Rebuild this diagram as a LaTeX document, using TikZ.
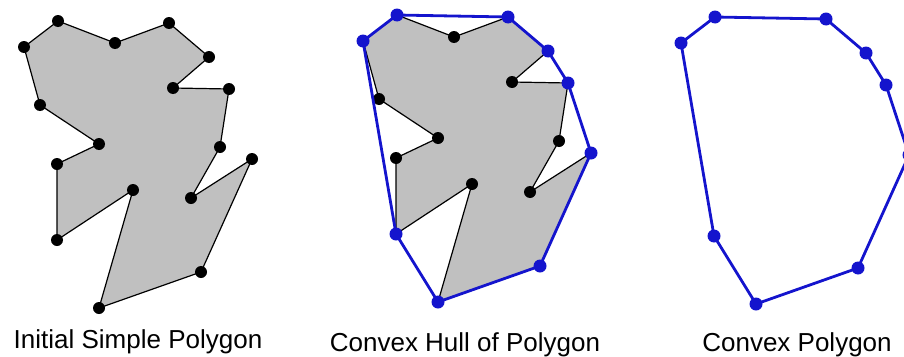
\documentclass[tikz,border=0pt]{standalone}
\usepackage{fontspec}
\setmainfont{Liberation Sans}
\usetikzlibrary{positioning}
\definecolor{hullblue}{RGB}{20,20,205}
\definecolor{polygray}{RGB}{192,192,192}

\begin{document}
\begin{tikzpicture}[
    x=1pt, y=-1pt,
    poly/.style={draw=black, line width=1.2pt, fill=polygray, line join=round},
    hull/.style={draw=hullblue, line width=2.8pt, line join=round},
    vtx/.style={fill=black},
    hvtx/.style={fill=hullblue},
    caption/.style={font=\fontsize{26}{30}\selectfont, anchor=base}
]
\useasboundingbox (0,0) rectangle (904,356);

%% ── Vertices (same polygon in all three panels) ──────────────────
\foreach \pfx/\sx/\sy in {a/0/0, b/339/-6, c/657/-4} {
  \begin{scope}[shift={(\sx,\sy)}]
    \foreach \i/\px/\py in {1/58/21, 2/115/43, 3/169/23, 4/209/57, 5/173/88,
                            6/229/89, 7/220/147, 8/191/198, 9/252/159,
                            10/201/272, 11/99/308, 12/133/190, 13/57/240,
                            14/57/164, 15/99/144, 16/40/105, 17/24/47}
      \coordinate (\pfx\i) at (\px,\py);
  \end{scope}
}

%% ── Panel 1: initial simple polygon ──────────────────────────────
\draw[poly] (a1) \foreach \i in {2,...,17}{ -- (a\i)} -- cycle;
\foreach \i in {1,...,17}
  \fill[vtx] (a\i) circle (6);

%% ── Panel 2: polygon with its convex hull ────────────────────────
\draw[poly] (b1) \foreach \i in {2,...,17}{ -- (b\i)} -- cycle;
\foreach \i in {2,5,7,8,12,14,15,16}
  \fill[vtx] (b\i) circle (6);
\draw[hull] (b1) -- (b3) -- (b4) -- (b6) -- (b9) -- (b10) -- (b11)
            -- (b13) -- (b17) -- cycle;
\foreach \i in {1,3,4,6,9,10,11,13,17}
  \fill[hvtx] (b\i) circle (6.5);

%% ── Panel 3: convex polygon only ─────────────────────────────────
\draw[hull] (c1) -- (c3) -- (c4) -- (c6) -- (c9) -- (c10) -- (c11)
            -- (c13) -- (c17) -- cycle;
\foreach \i in {1,3,4,6,9,10,11,13,17}
  \fill[hvtx] (c\i) circle (6.5);

%% ── Captions ─────────────────────────────────────────────────────
\node[caption] (capA) at (138,348) {Initial Simple Polygon};
\node[caption] (capB) at (465,351) {Convex Hull of Polygon};
\node[caption] (capC) at (797,351) {Convex Polygon};
\end{tikzpicture}
\end{document}
